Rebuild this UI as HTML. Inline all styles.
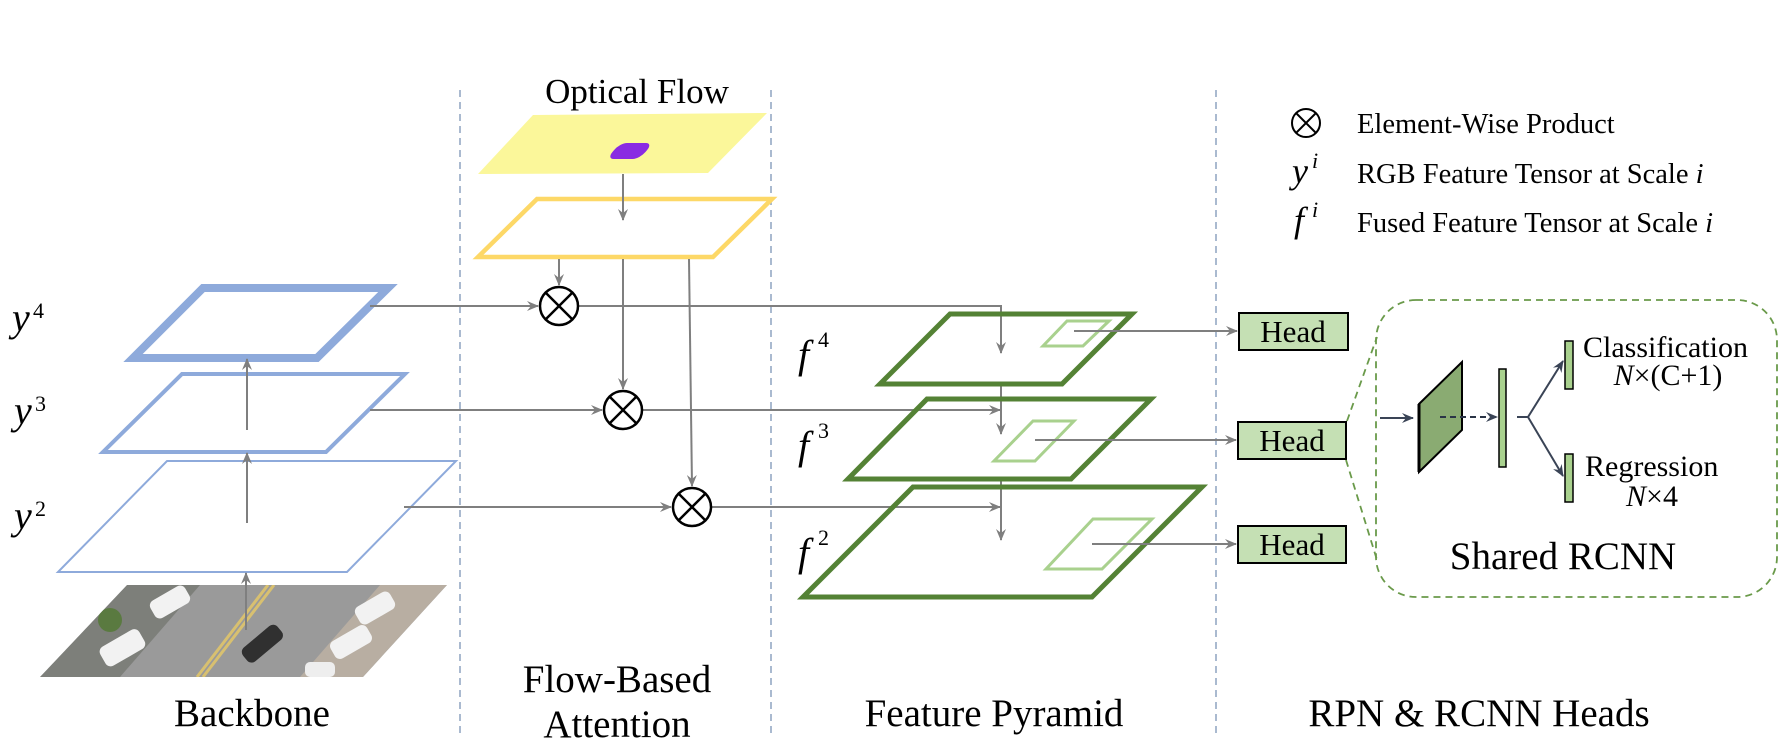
<!DOCTYPE html>
<html><head><meta charset="utf-8"><style>
html,body{margin:0;padding:0;background:#fff;}
svg{display:block;}
text{font-family:"Liberation Serif",serif;fill:#000;}
</style></head><body>
<svg width="1791" height="754" viewBox="0 0 1791 754" xmlns="http://www.w3.org/2000/svg">
<defs>
<marker id="ag" viewBox="0 0 12 10" refX="11" refY="5" markerWidth="12" markerHeight="10" markerUnits="userSpaceOnUse" orient="auto">
<path d="M0,0 L12,5 L0,10 L4,5 Z" fill="#7f7f7f"/></marker>
<marker id="ad" viewBox="0 0 12 10" refX="11" refY="5" markerWidth="12" markerHeight="10" markerUnits="userSpaceOnUse" orient="auto">
<path d="M0,0 L12,5 L0,10 L4,5 Z" fill="#3a4456"/></marker>
<clipPath id="photo"><polygon points="127,585 447,585 363,677 40,677"/></clipPath>
</defs>

<!-- dividers -->
<g stroke="#8ea4c0" stroke-width="1.5" stroke-dasharray="7,5">
<line x1="460" y1="90" x2="460" y2="737"/>
<line x1="771" y1="90" x2="771" y2="737"/>
<line x1="1216" y1="90" x2="1216" y2="737"/>
</g>

<!-- photo -->
<g clip-path="url(#photo)">
<rect x="30" y="580" width="430" height="100" fill="#9a9a9a"/>
<polygon points="127,585 200,585 120,677 40,677" fill="#7d7f7a"/>
<polygon points="380,585 447,585 363,677 300,677" fill="#b8aea2"/>
<line x1="268" y1="585" x2="197" y2="677" stroke="#d8c070" stroke-width="3"/>
<line x1="274" y1="585" x2="203" y2="677" stroke="#d8c070" stroke-width="3"/>
<rect x="150" y="592" width="40" height="20" rx="6" fill="#f2f2f2" transform="rotate(-30 170 602)"/>
<rect x="100" y="637" width="45" height="22" rx="6" fill="#f2f2f2" transform="rotate(-30 122 648)"/>
<rect x="240" y="635" width="45" height="18" rx="6" fill="#303030" transform="rotate(-40 262 644)"/>
<rect x="355" y="598" width="40" height="20" rx="6" fill="#f2f2f2" transform="rotate(-30 375 608)"/>
<rect x="330" y="632" width="42" height="20" rx="6" fill="#f2f2f2" transform="rotate(-30 351 642)"/>
<rect x="305" y="662" width="30" height="15" rx="5" fill="#eee"/>
<circle cx="110" cy="620" r="12" fill="#5a7a40"/>
</g>

<!-- backbone planes -->
<polygon points="203,288 388,288 317,358 133,358" fill="none" stroke="#8eaadb" stroke-width="8"/>
<polygon points="182,374 405,374 326,452 103,452" fill="none" stroke="#8eaadb" stroke-width="4"/>
<polygon points="167,461 456,461 347,572 58,572" fill="none" stroke="#8eaadb" stroke-width="2"/>
<g stroke="#7f7f7f" stroke-width="2" fill="none">
<line x1="247" y1="430" x2="247" y2="359" marker-end="url(#ag)"/>
<line x1="247" y1="523" x2="247" y2="453" marker-end="url(#ag)"/>
<line x1="246" y1="630" x2="246" y2="573" marker-end="url(#ag)"/>
</g>

<!-- y labels -->
<text x="12" y="331" font-size="40" font-style="italic">y</text><text x="33" y="318" font-size="22">4</text>
<text x="14" y="424" font-size="40" font-style="italic">y</text><text x="35" y="411" font-size="22">3</text>
<text x="14" y="529" font-size="40" font-style="italic">y</text><text x="35" y="516" font-size="22">2</text>

<!-- optical flow -->
<text x="637" y="103" font-size="35" text-anchor="middle">Optical Flow</text>
<polygon points="533,115 767,113 708,173 478,174" fill="#fbf79a"/>
<rect x="618" y="143" width="33" height="16" rx="7" fill="#8a2be2" transform="skewX(-40) translate(122,0)"/>
<polygon points="537,199 772,199 713,257 478,257" fill="none" stroke="#fdd867" stroke-width="4.5"/>

<g stroke="#7f7f7f" stroke-width="2" fill="none">
<line x1="623" y1="174" x2="623" y2="220" marker-end="url(#ag)"/>
<line x1="559" y1="259" x2="559" y2="285" marker-end="url(#ag)"/>
<line x1="623" y1="259" x2="623" y2="389" marker-end="url(#ag)"/>
<line x1="689" y1="259" x2="692" y2="486" marker-end="url(#ag)"/>
<line x1="370" y1="306" x2="538" y2="306" marker-end="url(#ag)"/>
<line x1="370" y1="410" x2="602" y2="410" marker-end="url(#ag)"/>
<line x1="404" y1="507" x2="671" y2="507" marker-end="url(#ag)"/>
<polyline points="579,306 1001,306 1001,353" marker-end="url(#ag)"/>
<line x1="643" y1="410" x2="1000" y2="410" marker-end="url(#ag)"/>
<line x1="712" y1="507" x2="1000" y2="507" marker-end="url(#ag)"/>
<line x1="1001" y1="384" x2="1001" y2="434" marker-end="url(#ag)"/>
<line x1="1001" y1="479" x2="1001" y2="540" marker-end="url(#ag)"/>
</g>
<g stroke="#000" stroke-width="2.5" fill="#fff">
<circle cx="559" cy="306" r="19"/><circle cx="623" cy="410" r="19"/><circle cx="692" cy="507" r="19"/>
</g>
<g stroke="#000" stroke-width="2.5">
<path d="M545.6,292.6 L572.4,319.4 M572.4,292.6 L545.6,319.4"/>
<path d="M609.6,396.6 L636.4,423.4 M636.4,396.6 L609.6,423.4"/>
<path d="M678.6,493.6 L705.4,520.4 M705.4,493.6 L678.6,520.4"/>
</g>

<!-- feature pyramid -->
<g fill="none" stroke="#548235" stroke-width="5">
<polygon points="950,314 1132,314 1062,384 880,384"/>
<polygon points="927,399 1151,399 1071,479 848,479"/>
<polygon points="913,487 1202,487 1092,597 803,597"/>
</g>
<g fill="none" stroke="#a9d18e" stroke-width="3">
<polygon points="1067,321 1109,321 1083,346 1043,346"/>
<polygon points="1033,421 1074,421 1035,461 994,461"/>
<polygon points="1093,519 1152,519 1102,569 1046,569"/>
</g>
<g stroke="#7f7f7f" stroke-width="2" fill="none">
<line x1="1074" y1="331" x2="1237" y2="331" marker-end="url(#ag)"/>
<line x1="1035" y1="440" x2="1236" y2="440" marker-end="url(#ag)"/>
<line x1="1092" y1="544" x2="1236" y2="544" marker-end="url(#ag)"/>
</g>
<text x="798" y="368" font-size="40" font-style="italic">f</text><text x="818" y="347" font-size="22">4</text>
<text x="798" y="459" font-size="40" font-style="italic">f</text><text x="818" y="438" font-size="22">3</text>
<text x="798" y="566" font-size="40" font-style="italic">f</text><text x="818" y="545" font-size="22">2</text>

<!-- heads -->
<g fill="#c5e0b4" stroke="#000" stroke-width="2">
<rect x="1239" y="313" width="109" height="37"/>
<rect x="1238" y="422" width="108" height="37"/>
<rect x="1238" y="526" width="108" height="37"/>
</g>
<g font-size="31" text-anchor="middle">
<text x="1293" y="342">Head</text><text x="1292" y="451">Head</text><text x="1292" y="555">Head</text>
</g>

<!-- shared rcnn -->
<g fill="none" stroke="#6a9a4a" stroke-width="1.8" stroke-dasharray="7,5">
<rect x="1376" y="300" width="401" height="297" rx="40"/>
<line x1="1347" y1="421" x2="1377" y2="337"/>
<line x1="1346" y1="460" x2="1377" y2="560"/>
</g>
<line x1="1380" y1="418" x2="1413" y2="418" stroke="#3a4456" stroke-width="2" marker-end="url(#ad)"/>
<polygon points="1419,404 1462,362 1462,430 1419,472" fill="#8aab72" stroke="#000" stroke-width="2"/>
<line x1="1419" y1="404" x2="1419" y2="472" stroke="#000" stroke-width="3"/>
<line x1="1440" y1="417" x2="1497" y2="417" stroke="#2a3446" stroke-width="2" stroke-dasharray="6,4" marker-end="url(#ad)"/>
<rect x="1499" y="369" width="7" height="98" fill="#a9d18e" stroke="#000" stroke-width="1.5"/>
<g stroke="#3a4456" stroke-width="2" fill="none">
<polyline points="1517,417 1528,417 1563,361" marker-end="url(#ad)"/>
<line x1="1528" y1="417" x2="1563" y2="476" marker-end="url(#ad)"/>
</g>
<rect x="1565" y="341" width="8" height="48" fill="#a9d18e" stroke="#000" stroke-width="1.5"/>
<rect x="1565" y="454" width="8" height="48" fill="#a9d18e" stroke="#000" stroke-width="1.5"/>
<text x="1583" y="357" font-size="30">Classification</text>
<text x="1668" y="385" font-size="30" text-anchor="middle"><tspan font-style="italic">N</tspan>×(C+1)</text>
<text x="1585" y="476" font-size="30">Regression</text>
<text x="1652" y="506" font-size="30" text-anchor="middle"><tspan font-style="italic">N</tspan>×4</text>
<text x="1563" y="569" font-size="39" text-anchor="middle">Shared RCNN</text>

<!-- legend -->
<circle cx="1306" cy="123" r="14" fill="none" stroke="#000" stroke-width="2"/>
<path d="M1296,113 L1316,133 M1316,113 L1296,133" stroke="#000" stroke-width="2"/>
<text x="1292" y="183" font-size="36" font-style="italic">y</text><text x="1312" y="168" font-size="22" font-style="italic">i</text>
<text x="1294" y="232" font-size="36" font-style="italic">f</text><text x="1312" y="217" font-size="22" font-style="italic">i</text>
<g font-size="28.5">
<text x="1357" y="133">Element-Wise Product</text>
<text x="1357" y="183">RGB Feature Tensor at Scale <tspan font-style="italic">i</tspan></text>
<text x="1357" y="232">Fused Feature Tensor at Scale <tspan font-style="italic">i</tspan></text>
</g>

<!-- section labels -->
<g font-size="39" text-anchor="middle">
<text x="252" y="726">Backbone</text>
<text x="617" y="692">Flow-Based</text>
<text x="617" y="737">Attention</text>
<text x="994" y="726">Feature Pyramid</text>
<text x="1479" y="726">RPN &amp; RCNN Heads</text>
</g>
</svg>
</body></html>
